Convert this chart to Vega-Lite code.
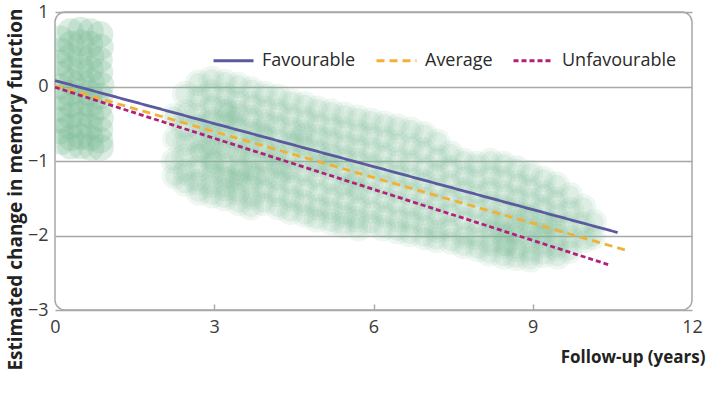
{
  "$schema": "https://vega.github.io/schema/vega-lite/v6.json",
  "width": 637,
  "height": 298,
  "autosize": {"type": "none"},
  "padding": {"left": 55, "top": 12, "right": 14, "bottom": 85},
  "background": "white",
  "config": {
    "font": "Open Sans",
    "view": {"stroke": "#a8a8a8", "strokeWidth": 1.5, "cornerRadius": 10},
    "axis": {"labelFont": "Open Sans", "labelFontSize": 18, "labelColor": "#3a3a3a", "titleFont": "Open Sans", "titleFontSize": 17, "titleFontWeight": "bold", "titleColor": "#222222"},
    "legend": {"labelFont": "Open Sans", "labelFontSize": 18, "labelColor": "#2a2a2a"}
  },
  "datasets": {
    "early": [
      {"year":0.1,"change":0.64},{"year":0.12,"change":0.48},{"year":0.09,"change":0.32},{"year":0.11,"change":0.16},{"year":0.1,"change":0.0},{"year":0.12,"change":-0.15},{"year":0.09,"change":-0.3},{"year":0.11,"change":-0.45},{"year":0.1,"change":-0.6},{"year":0.12,"change":-0.74},
      {"year":0.29,"change":0.74},{"year":0.3,"change":0.57},{"year":0.28,"change":0.4},{"year":0.29,"change":0.23},{"year":0.31,"change":0.06},{"year":0.28,"change":-0.09},{"year":0.3,"change":-0.24},{"year":0.29,"change":-0.39},{"year":0.27,"change":-0.54},{"year":0.3,"change":-0.69},{"year":0.29,"change":-0.8},
      {"year":0.48,"change":0.76},{"year":0.49,"change":0.59},{"year":0.47,"change":0.42},{"year":0.48,"change":0.25},{"year":0.5,"change":0.08},{"year":0.47,"change":-0.07},{"year":0.49,"change":-0.22},{"year":0.48,"change":-0.37},{"year":0.46,"change":-0.52},{"year":0.48,"change":-0.67},{"year":0.49,"change":-0.8},
      {"year":0.67,"change":0.74},{"year":0.66,"change":0.57},{"year":0.68,"change":0.4},{"year":0.67,"change":0.23},{"year":0.69,"change":0.06},{"year":0.66,"change":-0.09},{"year":0.67,"change":-0.24},{"year":0.68,"change":-0.39},{"year":0.66,"change":-0.54},{"year":0.67,"change":-0.69},{"year":0.68,"change":-0.82},
      {"year":0.85,"change":0.7},{"year":0.86,"change":0.53},{"year":0.84,"change":0.36},{"year":0.85,"change":0.19},{"year":0.87,"change":0.02},{"year":0.85,"change":-0.13},{"year":0.84,"change":-0.28},{"year":0.86,"change":-0.43},{"year":0.85,"change":-0.58},{"year":0.85,"change":-0.72},{"year":0.86,"change":-0.82}
    ],
    "later": [
      {"year":2.25,"change":-0.4},{"year":2.27,"change":-0.7},{"year":2.24,"change":-1.0},{"year":2.26,"change":-1.2},
      {"year":2.45,"change":-0.1},{"year":2.47,"change":-0.35},{"year":2.43,"change":-0.55},{"year":2.46,"change":-0.75},{"year":2.44,"change":-0.95},{"year":2.47,"change":-1.15},{"year":2.45,"change":-1.3},
      {"year":2.7,"change":0.05},{"year":2.72,"change":-0.15},{"year":2.68,"change":-0.35},{"year":2.71,"change":-0.55},{"year":2.69,"change":-0.72},{"year":2.72,"change":-0.9},{"year":2.7,"change":-1.1},{"year":2.68,"change":-1.28},{"year":2.71,"change":-1.42},
      {"year":2.95,"change":0.1},{"year":2.93,"change":-0.08},{"year":2.97,"change":-0.26},{"year":2.94,"change":-0.44},{"year":2.96,"change":-0.62},{"year":2.93,"change":-0.8},{"year":2.97,"change":-0.98},{"year":2.95,"change":-1.16},{"year":2.93,"change":-1.32},{"year":2.96,"change":-1.46},
      {"year":3.2,"change":0.06},{"year":3.22,"change":-0.12},{"year":3.18,"change":-0.3},{"year":3.21,"change":-0.48},{"year":3.19,"change":-0.66},{"year":3.22,"change":-0.84},{"year":3.2,"change":-1.02},{"year":3.18,"change":-1.2},{"year":3.21,"change":-1.36},{"year":3.19,"change":-1.5},
      {"year":3.45,"change":0.02},{"year":3.43,"change":-0.18},{"year":3.47,"change":-0.36},{"year":3.44,"change":-0.54},{"year":3.46,"change":-0.72},{"year":3.43,"change":-0.9},{"year":3.47,"change":-1.08},{"year":3.45,"change":-1.26},{"year":3.43,"change":-1.42},{"year":3.46,"change":-1.56},
      {"year":3.7,"change":-0.04},{"year":3.72,"change":-0.24},{"year":3.68,"change":-0.42},{"year":3.71,"change":-0.6},{"year":3.69,"change":-0.78},{"year":3.72,"change":-0.96},{"year":3.7,"change":-1.14},{"year":3.68,"change":-1.32},{"year":3.71,"change":-1.48},{"year":3.69,"change":-1.62},
      {"year":3.95,"change":-0.1},{"year":3.93,"change":-0.3},{"year":3.97,"change":-0.48},{"year":3.94,"change":-0.66},{"year":3.96,"change":-0.84},{"year":3.93,"change":-1.02},{"year":3.97,"change":-1.2},{"year":3.95,"change":-1.38},{"year":3.93,"change":-1.56},
      {"year":4.2,"change":-0.14},{"year":4.22,"change":-0.34},{"year":4.18,"change":-0.52},{"year":4.21,"change":-0.7},{"year":4.19,"change":-0.88},{"year":4.22,"change":-1.06},{"year":4.2,"change":-1.26},{"year":4.18,"change":-1.44},{"year":4.21,"change":-1.62},
      {"year":4.45,"change":-0.2},{"year":4.43,"change":-0.4},{"year":4.47,"change":-0.58},{"year":4.44,"change":-0.76},{"year":4.46,"change":-0.94},{"year":4.43,"change":-1.12},{"year":4.47,"change":-1.32},{"year":4.45,"change":-1.5},{"year":4.43,"change":-1.68},
      {"year":4.7,"change":-0.24},{"year":4.72,"change":-0.44},{"year":4.68,"change":-0.62},{"year":4.71,"change":-0.8},{"year":4.69,"change":-0.98},{"year":4.72,"change":-1.16},{"year":4.7,"change":-1.36},{"year":4.68,"change":-1.56},{"year":4.71,"change":-1.72},
      {"year":4.95,"change":-0.3},{"year":4.93,"change":-0.5},{"year":4.97,"change":-0.68},{"year":4.94,"change":-0.86},{"year":4.96,"change":-1.04},{"year":4.93,"change":-1.22},{"year":4.97,"change":-1.42},{"year":4.95,"change":-1.62},{"year":4.93,"change":-1.78},
      {"year":5.2,"change":-0.34},{"year":5.22,"change":-0.54},{"year":5.18,"change":-0.72},{"year":5.21,"change":-0.9},{"year":5.19,"change":-1.08},{"year":5.22,"change":-1.28},{"year":5.2,"change":-1.48},{"year":5.18,"change":-1.66},{"year":5.21,"change":-1.82},
      {"year":5.45,"change":-0.38},{"year":5.43,"change":-0.58},{"year":5.47,"change":-0.78},{"year":5.44,"change":-0.96},{"year":5.46,"change":-1.14},{"year":5.43,"change":-1.34},{"year":5.47,"change":-1.54},{"year":5.45,"change":-1.72},{"year":5.43,"change":-1.86},
      {"year":5.7,"change":-0.42},{"year":5.72,"change":-0.62},{"year":5.68,"change":-0.82},{"year":5.71,"change":-1.0},{"year":5.69,"change":-1.2},{"year":5.72,"change":-1.4},{"year":5.7,"change":-1.6},{"year":5.68,"change":-1.78},{"year":5.71,"change":-1.9},
      {"year":5.95,"change":-0.46},{"year":5.93,"change":-0.66},{"year":5.97,"change":-0.86},{"year":5.94,"change":-1.06},{"year":5.96,"change":-1.26},{"year":5.93,"change":-1.46},{"year":5.97,"change":-1.66},{"year":5.95,"change":-1.84},
      {"year":6.2,"change":-0.5},{"year":6.22,"change":-0.7},{"year":6.18,"change":-0.92},{"year":6.21,"change":-1.12},{"year":6.19,"change":-1.32},{"year":6.22,"change":-1.52},{"year":6.2,"change":-1.72},{"year":6.18,"change":-1.9},
      {"year":6.45,"change":-0.54},{"year":6.43,"change":-0.76},{"year":6.47,"change":-0.98},{"year":6.44,"change":-1.18},{"year":6.46,"change":-1.38},{"year":6.43,"change":-1.58},{"year":6.47,"change":-1.78},{"year":6.45,"change":-1.94},
      {"year":6.7,"change":-0.58},{"year":6.72,"change":-0.8},{"year":6.68,"change":-1.02},{"year":6.71,"change":-1.22},{"year":6.69,"change":-1.42},{"year":6.72,"change":-1.62},{"year":6.7,"change":-1.8},{"year":6.68,"change":-1.98},
      {"year":6.95,"change":-0.64},{"year":6.93,"change":-0.86},{"year":6.97,"change":-1.08},{"year":6.94,"change":-1.28},{"year":6.96,"change":-1.48},{"year":6.93,"change":-1.68},{"year":6.97,"change":-1.86},{"year":6.95,"change":-2.02},
      {"year":7.2,"change":-0.74},{"year":7.22,"change":-0.96},{"year":7.18,"change":-1.16},{"year":7.21,"change":-1.36},{"year":7.19,"change":-1.56},{"year":7.22,"change":-1.74},{"year":7.2,"change":-1.92},{"year":7.18,"change":-2.06},
      {"year":7.45,"change":-0.9},{"year":7.43,"change":-1.1},{"year":7.47,"change":-1.3},{"year":7.44,"change":-1.5},{"year":7.46,"change":-1.7},{"year":7.43,"change":-1.9},{"year":7.47,"change":-2.08},
      {"year":7.7,"change":-1.0},{"year":7.72,"change":-1.2},{"year":7.68,"change":-1.4},{"year":7.71,"change":-1.6},{"year":7.69,"change":-1.8},{"year":7.72,"change":-2.0},{"year":7.7,"change":-2.14},
      {"year":7.95,"change":-1.04},{"year":7.93,"change":-1.24},{"year":7.97,"change":-1.44},{"year":7.94,"change":-1.64},{"year":7.96,"change":-1.84},{"year":7.93,"change":-2.02},{"year":7.97,"change":-2.18},
      {"year":8.2,"change":-1.0},{"year":8.22,"change":-1.2},{"year":8.18,"change":-1.4},{"year":8.21,"change":-1.58},{"year":8.19,"change":-1.76},{"year":8.22,"change":-1.94},{"year":8.2,"change":-2.1},{"year":8.18,"change":-2.24},
      {"year":8.45,"change":-1.04},{"year":8.43,"change":-1.24},{"year":8.47,"change":-1.44},{"year":8.44,"change":-1.62},{"year":8.46,"change":-1.8},{"year":8.43,"change":-1.98},{"year":8.47,"change":-2.14},{"year":8.45,"change":-2.28},
      {"year":8.7,"change":-1.1},{"year":8.72,"change":-1.3},{"year":8.68,"change":-1.5},{"year":8.71,"change":-1.66},{"year":8.69,"change":-1.84},{"year":8.72,"change":-2.0},{"year":8.7,"change":-2.18},{"year":8.68,"change":-2.3},
      {"year":8.95,"change":-1.16},{"year":8.93,"change":-1.36},{"year":8.97,"change":-1.54},{"year":8.94,"change":-1.72},{"year":8.96,"change":-1.9},{"year":8.93,"change":-2.06},{"year":8.97,"change":-2.22},{"year":8.95,"change":-2.32},
      {"year":9.2,"change":-1.24},{"year":9.22,"change":-1.44},{"year":9.18,"change":-1.62},{"year":9.21,"change":-1.8},{"year":9.19,"change":-1.96},{"year":9.22,"change":-2.12},{"year":9.2,"change":-2.26},
      {"year":9.45,"change":-1.32},{"year":9.43,"change":-1.52},{"year":9.47,"change":-1.7},{"year":9.44,"change":-1.86},{"year":9.46,"change":-2.02},{"year":9.43,"change":-2.16},{"year":9.47,"change":-2.28},
      {"year":9.7,"change":-1.46},{"year":9.72,"change":-1.66},{"year":9.68,"change":-1.86},{"year":9.71,"change":-2.04},{"year":9.69,"change":-2.2},
      {"year":9.95,"change":-1.62},{"year":9.93,"change":-1.86},{"year":9.97,"change":-2.06},
      {"year":10.15,"change":-1.82},{"year":10.13,"change":-2.02},
      {"year":2.85,"change":-0.5},{"year":3.1,"change":-0.75},{"year":3.35,"change":-0.45},{"year":3.6,"change":-0.85},{"year":3.85,"change":-0.6},{"year":4.1,"change":-0.95},{"year":3.0,"change":-1.05},{"year":3.5,"change":-1.15},{"year":2.8,"change":-0.85},{"year":3.25,"change":-0.35},
      {"year":3.3,"change":-1.25},{"year":3.8,"change":-1.2},{"year":4.3,"change":-1.15},{"year":4.6,"change":-0.7},{"year":5.1,"change":-1.0},{"year":5.6,"change":-1.3},
      {"year":8.3,"change":-1.85},{"year":8.6,"change":-1.95},{"year":8.85,"change":-1.75},{"year":9.1,"change":-2.0},{"year":8.5,"change":-2.1},{"year":9.3,"change":-1.85}
    ],
    "trend": [
      {"profile":"Favourable","year":0,"change":0.08},{"profile":"Favourable","year":10.6,"change":-1.96},
      {"profile":"Average","year":0,"change":0.01},{"profile":"Average","year":10.77,"change":-2.2},
      {"profile":"Unfavourable","year":0,"change":-0.01},{"profile":"Unfavourable","year":10.42,"change":-2.39}
    ]
  },
  "encoding": {
    "x": {"field": "year", "type": "quantitative", "scale": {"domain": [0, 12], "nice": false, "zero": false},
      "axis": {"values": [0, 3, 6, 9, 12], "title": "Follow-up (years)", "titleAnchor": "end", "titleAlign": "right", "titleX": 650, "titleY": 47, "titleBaseline": "middle", "domain": false, "grid": false, "ticks": true, "tickSize": -6, "tickColor": "#a8a8a8", "tickWidth": 1.5, "tickOpacity": {"condition": {"test": "datum.value == 0 || datum.value == 12", "value": 0}, "value": 1}, "labelPadding": 14, "labelFlush": false}},
    "y": {"field": "change", "type": "quantitative", "scale": {"domain": [-3, 1], "nice": false, "zero": false},
      "axis": {"values": [-3, -2, -1, 0, 1], "title": "Estimated change in memory function", "titleFontSize": 19, "titleX": -34, "titleY": 177, "titleAlign": "center", "titleAngle": -90, "titleBaseline": "alphabetic", "domain": false, "ticks": false, "grid": true, "gridColor": "#a8a8a8", "gridWidth": 1.5, "labelPadding": 7, "labelFlush": false}}
  },
  "layer": [
    {"data": {"name": "early"}, "mark": {"type": "circle", "size": 700, "opacity": 0.27, "color": "#7dbb98", "clip": true}},
    {"data": {"name": "later"}, "mark": {"type": "circle", "size": 700, "opacity": 0.12, "color": "#7dbb98", "clip": true}},
    {"data": {"name": "later"}, "mark": {"type": "circle", "size": 400, "opacity": 0.15, "color": "#7dbb98", "clip": true}},
    {"data": {"name": "trend"}, "mark": {"type": "line", "strokeWidth": 2.8, "strokeCap": "butt"},
      "encoding": {
        "color": {"field": "profile", "type": "nominal", "scale": {"domain": ["Favourable", "Average", "Unfavourable"], "range": ["#5b5a9e", "#f2b134", "#b0217b"]},
          "legend": {"title": null, "orient": "none", "direction": "horizontal", "legendX": 157, "legendY": 27, "symbolType": "stroke", "symbolSize": 1600, "symbolStrokeWidth": 2.8, "labelOffset": 7, "columnPadding": 14, "padding": 0}},
        "strokeDash": {"field": "profile", "type": "nominal", "scale": {"domain": ["Favourable", "Average", "Unfavourable"], "range": [[1, 0], [8, 5], [5, 3]]},
          "legend": {"title": null, "orient": "none", "direction": "horizontal", "legendX": 157, "legendY": 27, "symbolType": "stroke", "symbolSize": 1600, "symbolStrokeWidth": 2.8, "labelOffset": 7, "columnPadding": 14, "padding": 0}}
      }}
  ]
}
